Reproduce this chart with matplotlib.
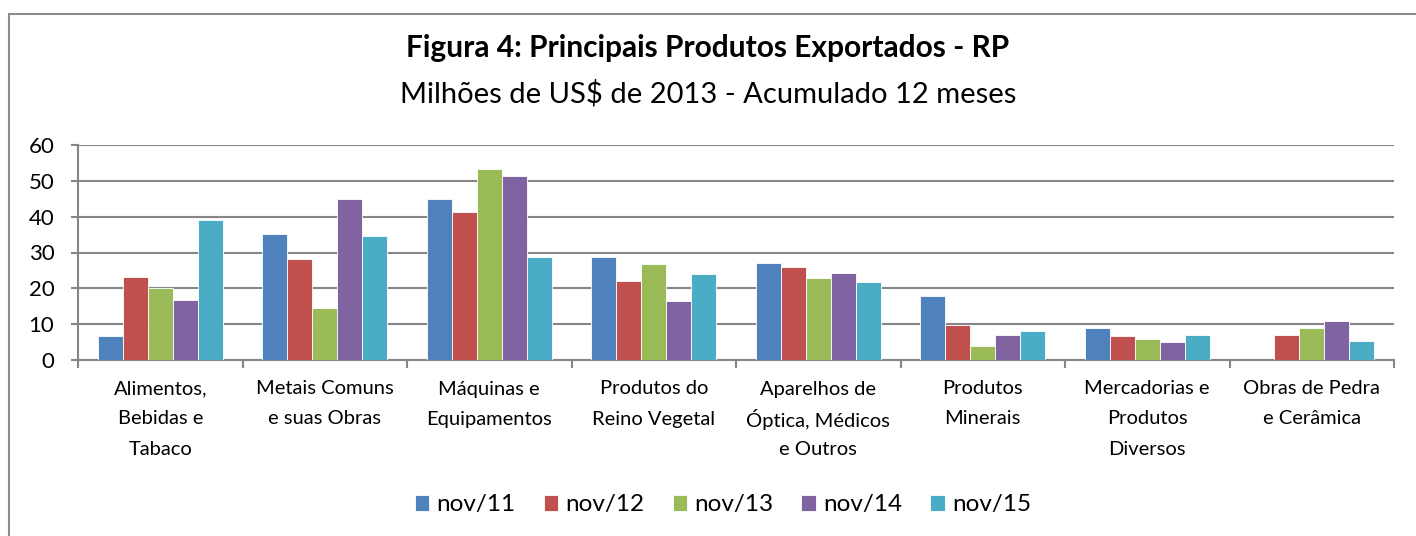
import numpy as np
import matplotlib
matplotlib.use("Agg")
import matplotlib.pyplot as plt
from matplotlib.patches import Rectangle

plt.rcParams["font.family"] = ["Lato", "DejaVu Sans"]

# Data (millions of US$ of 2013, 12-month accumulated)
categories = [
    "Alimentos,\nBebidas e\nTabaco",
    "Metais Comuns\ne suas Obras",
    "Máquinas e\nEquipamentos",
    "Produtos do\nReino Vegetal",
    "Aparelhos de\nÓptica, Médicos\ne Outros",
    "Produtos\nMinerais",
    "Mercadorias e\nProdutos\nDiversos",
    "Obras de Pedra\ne Cerâmica",
]
series_names = ["nov/11", "nov/12", "nov/13", "nov/14", "nov/15"]
nov11 = [6.7, 35.1, 44.8, 28.8, 27.2, 17.9, 8.9, 0.0]
nov12 = [23.3, 28.3, 41.2, 22.1, 26.0, 9.9, 6.6, 7.0]
nov13 = [20.2, 14.5, 53.3, 26.8, 22.9, 3.8, 6.0, 8.8]
nov14 = [16.8, 44.9, 51.3, 16.5, 24.4, 6.9, 5.1, 10.9]
nov15 = [39.0, 34.7, 28.7, 24.0, 21.8, 8.2, 7.0, 5.3]
yticks = [0, 10, 20, 30, 40, 50, 60]

colors = ["#4F81BD", "#C0504D", "#9BBB59", "#8064A2", "#4BACC6"]
grid_color = "#868686"

W, H = 1416, 536
fig = plt.figure(figsize=(W / 100, H / 100), dpi=100)
ax_top, ax_bot = 145, 360
ax = fig.add_axes([78 / W, 1 - ax_bot / H, (1394 - 78) / W, (ax_bot - ax_top) / H])

# outer chart border (left and top visible)
fig.patches.append(Rectangle((9 / W, -0.1), 1.2, 1 - 14 / H + 0.1,
                             transform=fig.transFigure, fill=False,
                             edgecolor="#8c8c8c", linewidth=1.5))

x = np.arange(len(categories))
width = 0.152
all_series = [nov11, nov12, nov13, nov14, nov15]
for i, (vals, name, c) in enumerate(zip(all_series, series_names, colors)):
    offs = (i - 2) * width
    ax.bar(x + offs, vals, width, color=c, edgecolor="white", linewidth=0.6,
           label=name, zorder=3)

ax.set_xlim(-0.5, len(categories) - 0.5)
ax.set_ylim(0, 60)
ax.set_yticks(yticks)
ax.yaxis.grid(True, color=grid_color, linewidth=1.5, zorder=0)
ax.set_axisbelow(True)

for s in ["top", "right"]:
    ax.spines[s].set_visible(False)
for s in ["left", "bottom"]:
    ax.spines[s].set_color(grid_color)
    ax.spines[s].set_linewidth(1.5)

ax.tick_params(axis="y", length=5, width=1.5, color=grid_color,
               labelsize=16, pad=12)
# tick marks between categories, labels drawn line by line below
ax.set_xticks(np.arange(len(categories) + 1) - 0.5)
ax.set_xticklabels([])
ax.tick_params(axis="x", length=6, width=1.5, color=grid_color)

trans = ax.get_xaxis_transform()
for xi, label in zip(x, categories):
    for k, line in enumerate(label.split("\n")):
        ypx = 389 + 30 * k
        ax.text(xi, (ax_bot - ypx) / (ax_bot - ax_top), line, transform=trans,
                ha="center", va="center", fontsize=14.5, clip_on=False)

fig.text(0.5, 1 - 48 / H, "Figura 4: Principais Produtos Exportados - RP",
         ha="center", va="center", fontsize=21.5, fontweight="bold")
fig.text(0.5, 1 - 94 / H, "Milhões de US$ de 2013 - Acumulado 12 meses",
         ha="center", va="center", fontsize=21)

fig.legend(loc="center", bbox_to_anchor=(723 / W, 1 - 505 / H), ncol=5,
           frameon=False, fontsize=17.5, handlelength=0.6, handleheight=0.6,
           handletextpad=0.3, columnspacing=1.15)

plt.savefig("out.png", dpi=100)
